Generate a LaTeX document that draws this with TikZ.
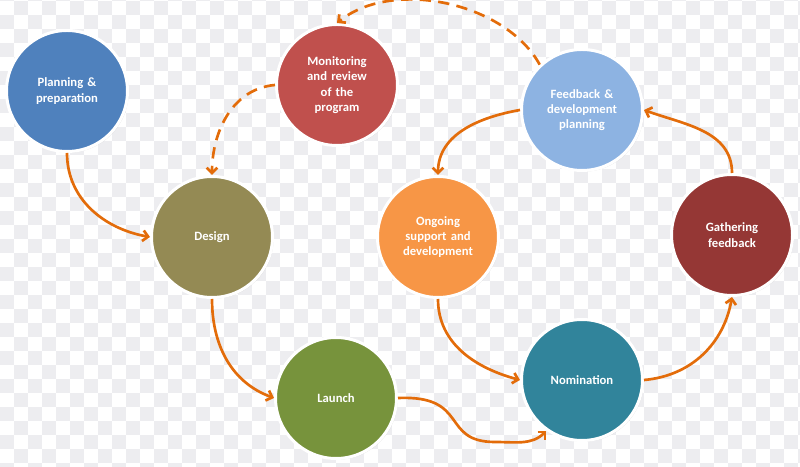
\documentclass[tikz,border=0pt]{standalone}
\usepackage{fontspec}
\setmainfont{Carlito}
\usetikzlibrary{arrows.meta,shadows}
\definecolor{chkgray}{RGB}{237,237,240}
\definecolor{flowor}{RGB}{227,108,10}
\definecolor{planblue}{RGB}{79,129,189}
\definecolor{monred}{RGB}{192,80,77}
\definecolor{fbblue}{RGB}{141,179,226}
\definecolor{desolive}{RGB}{148,138,84}
\definecolor{ongorange}{RGB}{247,150,70}
\definecolor{gathred}{RGB}{149,55,53}
\definecolor{lngreen}{RGB}{119,147,60}
\definecolor{nomteal}{RGB}{49,132,155}
\tikzset{
	stage/.style={circle, draw=white, line width=2.25pt, minimum size=90.75pt,
		inner sep=0pt, align=center, text=white, text width=70pt,
		font=\bfseries\fontsize{9.5}{11.5}\selectfont,
		drop shadow={shadow xshift=0.9pt, shadow yshift=-0.9pt, opacity=0.22}},
	flow/.style={draw=flowor, line width=2pt, -{Straight Barb[length=4pt,width=8pt]}},
	backflow/.style={flow, dash pattern=on 8.5pt off 5.5pt}
}

\begin{document}
\begin{tikzpicture}[x=0.75pt, y=0.75pt]
			%%%%% START %%%%%
			\useasboundingbox (0, 0) rectangle (800, 467);
			\fill[white] (0, 0) rectangle (800, 467);
			
			% checker background
			\begin{scope}
				\clip (0, 0) rectangle (800, 467);
				\foreach \i in {0,...,57}{
					\foreach \j in {0,...,34}{
						\pgfmathtruncatemacro\odd{mod(\i+\j,2)}
						\ifnum\odd=0 \fill[chkgray] (14*\i, 465.5-14*\j) rectangle ++(14, 14); \fi
					}
				}
			\end{scope}
			
			\node[stage, fill=planblue] (plan) at (67, 376) {Planning \&\\preparation};
			\node[stage, fill=monred] (monitor) at (337, 382) {Monitoring\\and review\\of the\\program};
			\node[stage, fill=fbblue] (feedback) at (582, 357) {Feedback \&\\development\\planning};
			
			\node[stage, fill=desolive] (design) at (212, 230) {Design};
			\node[stage, fill=ongorange] (ongoing) at (438, 230) {Ongoing\\support and\\development};
			\node[stage, fill=gathred] (gather) at (732, 232) {Gathering\\feedback};
			
			\node[stage, fill=lngreen] (launch) at (336, 69) {Launch};
			\node[stage, fill=nomteal] (nomination) at (582, 87) {Nomination};
			
			\coordinate (dip) at (495, 25);
			
			\draw[flow] (plan.south) to[out=-90, in=170] (design.west);
			\draw[flow] (design.south) to[out=-90, in=160] (launch.west);
			\draw[flow] (launch.east) .. controls (470, 72) and (440, 25) .. (dip) to[out=0, in=-135] (nomination.-125);
			\draw[flow] (ongoing.south) to[out=-90, in=165] (nomination.west);
			\draw[flow] (nomination.east) to[out=5, in=-100] (gather.south);
			\draw[flow] (gather.north) to[out=90, in=-20] (feedback.east);
			\draw[flow] (feedback.west) to[out=190, in=90] (ongoing.north);
			
			\draw[backflow] (feedback.133) .. controls +(-34, 62) and +(56, 45) .. (monitor.north);
			\draw[backflow] (monitor.west) to[out=185, in=90] (design.north);
			
			%%%%% END %%%%%
\end{tikzpicture}
\end{document}
